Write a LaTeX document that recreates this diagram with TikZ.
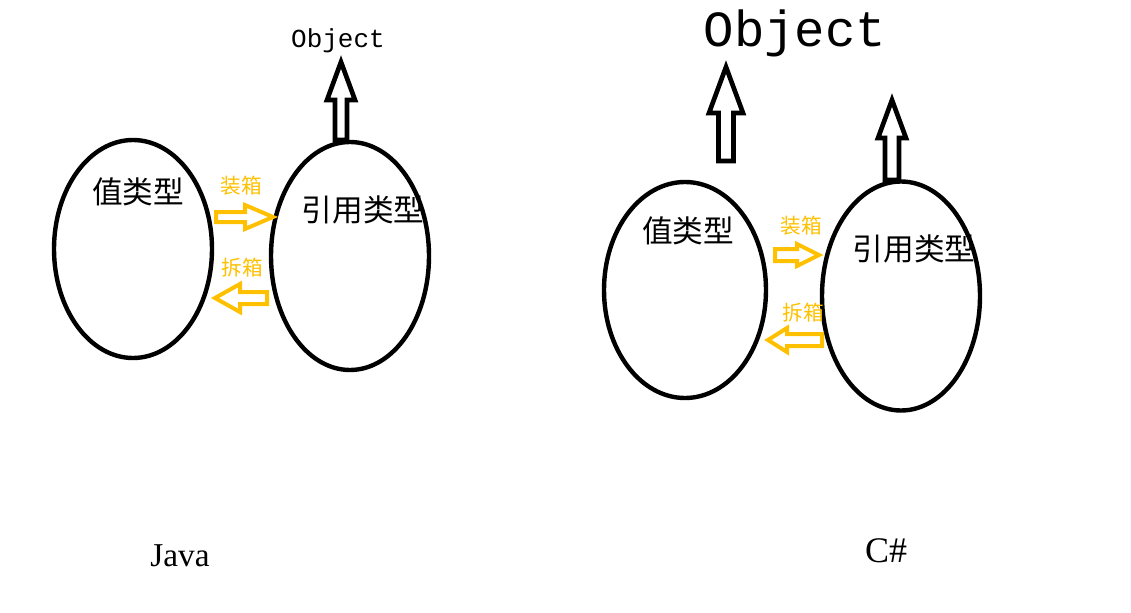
\documentclass[tikz,border=0pt]{standalone}
\usepackage{fontspec}
\setmainfont{Liberation Serif}
\setmonofont{Liberation Mono}
\newfontfamily\cjk{Noto Sans CJK SC}
\usetikzlibrary{shapes.geometric}
\begin{document}
\begin{tikzpicture}[x=0.75pt,y=-0.75pt]
%\draw[help lines,step=50] (0,0) grid (1131,613);
\definecolor{Gold}{RGB}{255,192,0}
\tikzset{typebox/.style={draw, ellipse, line width=3.3pt, inner sep=0pt},
	bigarrow/.style={draw, line width=3.5pt, fill=white, line join=miter},
	boxarrow/.style={draw=Gold, line width=3pt, line join=miter},
	typelabel/.style={font=\cjk\fontsize{23}{23}\selectfont, inner sep=0pt},
	boxlabel/.style={font=\cjk\fontsize{15.5}{15.5}\selectfont, text=Gold, inner sep=0pt}}
\useasboundingbox (0,0) rectangle (1131,613);
%%%%%%%%%%%%%%
%% Java %%
%%%%%%%%%%%%%%
\node[typebox, minimum width=118.5pt, minimum height=163.5pt] (valJ) at (133,249) {};
\node[typebox, minimum width=118.5pt, minimum height=171pt] (refJ) at (350,256) {};
\node[typelabel] (valJtext) at (138,192) {值类型};
\node[typelabel] (refJtext) at (363,210) {引用类型};
\node[font=\ttfamily\fontsize{19.5}{19.5}\selectfont, inner sep=0pt] (objJ) at (338,41) {Object};
\node[font=\fontsize{25}{25}\selectfont, inner sep=0pt] (java) at (180,556) {Java};
%% Object arrow
\def\a{341}
\def\b{140}
\draw[bigarrow] (\a-6,\b) -- (\a-6,\b-40) -- (\a-14,\b-40) -- (\a,\b-78)
	-- (\a+14,\b-40) -- (\a+6,\b-40) -- (\a+6,\b) -- cycle;
%% Boxing
\node[boxlabel] (boxJ) at (241,186) {装箱};
\def\a{216}
\def\b{217}
\draw[boxarrow] (\a,\b-5) -- (\a+29,\b-5) -- (\a+29,\b-12) -- (\a+57,\b)
	-- (\a+29,\b+12) -- (\a+29,\b+5) -- (\a,\b+5) -- cycle;
%% Unboxing
\node[boxlabel] (unboxJ) at (242,268) {拆箱};
\def\a{267}
\def\b{298}
\draw[boxarrow] (\a,\b-6) -- (\a-27,\b-6) -- (\a-27,\b-14) -- (\a-52,\b)
	-- (\a-27,\b+14) -- (\a-27,\b+6) -- (\a,\b+6) -- cycle;
%%%%%%%%%%%%%%
%% C# %%
%%%%%%%%%%%%%%
\node[typebox, minimum width=121.5pt, minimum height=162pt] (valC) at (685,290) {};
\node[typebox, minimum width=118.5pt, minimum height=171.75pt] (refC) at (901,296) {};
\node[typelabel] (valCtext) at (688,231) {值类型};
\node[typelabel] (refCtext) at (914,249) {引用类型};
\node[font=\ttfamily\fontsize{38}{38}\selectfont, inner sep=0pt] (objC) at (795,33) {Object};
\node[font=\fontsize{27}{27}\selectfont, inner sep=0pt] (csharp) at (886,551) {C\#};
%% Object arrow (value type)
\def\a{726}
\def\b{161}
\draw[bigarrow] (\a-7.5,\b) -- (\a-7.5,\b-48) -- (\a-17,\b-48) -- (\a,\b-94)
	-- (\a+17,\b-48) -- (\a+7.5,\b-48) -- (\a+7.5,\b) -- cycle;
%% Object arrow (reference type)
\def\a{892}
\def\b{180}
\draw[bigarrow] (\a-7,\b) -- (\a-7,\b-42) -- (\a-14,\b-42) -- (\a,\b-80)
	-- (\a+14,\b-42) -- (\a+7,\b-42) -- (\a+7,\b) -- cycle;
%% Boxing
\node[boxlabel] (boxC) at (801,226) {装箱};
\def\a{775}
\def\b{255}
\draw[boxarrow] (\a,\b-6) -- (\a+22,\b-6) -- (\a+22,\b-11) -- (\a+44,\b)
	-- (\a+22,\b+11) -- (\a+22,\b+6) -- (\a,\b+6) -- cycle;
%% Unboxing
\node[boxlabel] (unboxC) at (803,313) {拆箱};
\def\a{822}
\def\b{340}
\draw[boxarrow] (\a,\b-6) -- (\a-35,\b-6) -- (\a-35,\b-12) -- (\a-54,\b)
	-- (\a-35,\b+12) -- (\a-35,\b+6) -- (\a,\b+6) -- cycle;
\end{tikzpicture}
\end{document}
